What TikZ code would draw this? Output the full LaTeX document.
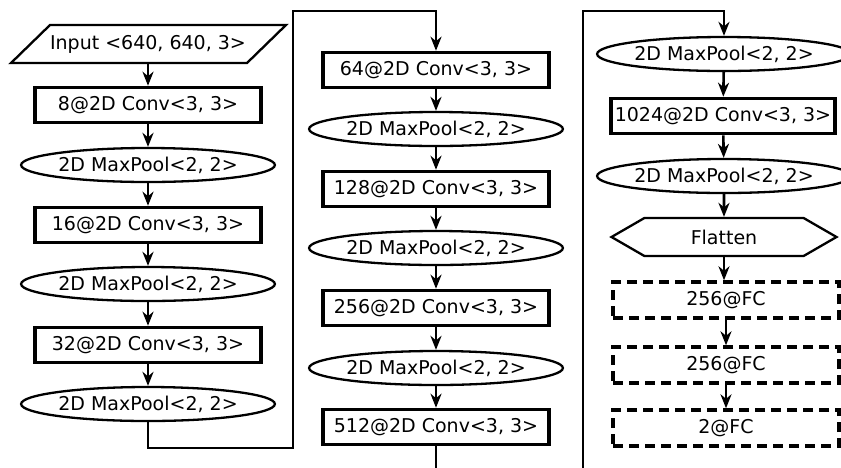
\documentclass[tikz,border=0pt]{standalone}
\usepackage{fontspec}
\setmainfont{DejaVu Sans}
\usetikzlibrary{arrows.meta,shapes.geometric,shapes.symbols}

\tikzset{
  layer/.style={draw, line width=3.6pt, minimum width=226pt, minimum height=35pt, inner sep=2pt},
  pool/.style={draw, ellipse, line width=2.3pt, minimum width=232pt, minimum height=34pt, inner sep=0pt},
  fc/.style={draw, line width=3.4pt, dash pattern=on 10pt off 6pt, minimum width=226pt, minimum height=36pt},
  flow/.style={line width=2.6pt, -{Stealth[length=14pt, width=11pt, inset=4.5pt]}},
}

\begin{document}
\begin{tikzpicture}[x=1pt, y=-1pt, font=\fontsize{19}{22}\selectfont]
  \clip (0,0) rectangle (841,467); % page frame

  % first column
  \node[minimum height=38pt] (in) at (148,44) {Input <640, 640, 3>};
  \draw[line width=2.3pt, line join=miter] (in.center) ++(-137,19) -- ++(236,0) -- ++(39,-38) -- ++(-236,0) -- cycle;
  \node[layer] (c8)  at (148,105) {8@2D Conv<3, 3>};
  \node[pool]  (p1)  at (148,165) {2D MaxPool<2, 2>};
  \node[layer] (c16) at (148,225) {16@2D Conv<3, 3>};
  \node[pool]  (p2)  at (148,284) {2D MaxPool<2, 2>};
  \node[layer] (c32) at (148,345) {32@2D Conv<3, 3>};
  \node[pool]  (p3)  at (148,404) {2D MaxPool<2, 2>};

  % second column
  \node[layer] (c64)  at (436,70)  {64@2D Conv<3, 3>};
  \node[pool]  (p4)   at (436,129) {2D MaxPool<2, 2>};
  \node[layer] (c128) at (436,189) {128@2D Conv<3, 3>};
  \node[pool]  (p5)   at (436,248) {2D MaxPool<2, 2>};
  \node[layer] (c256) at (436,308) {256@2D Conv<3, 3>};
  \node[pool]  (p6)   at (436,368) {2D MaxPool<2, 2>};
  \node[layer] (c512) at (436,427) {512@2D Conv<3, 3>};

  % third column
  \node[pool]  (p7)    at (724,54)  {2D MaxPool<2, 2>};
  \node[layer, minimum width=224pt, inner sep=0pt] (c1024) at (723,116) {1024@2D Conv<3, 3>};
  \node[pool]  (p8)    at (724,176) {2D MaxPool<2, 2>};
  \node[draw, signal, signal to=west and east, signal pointer angle=60,
        line width=2.3pt, minimum width=225pt, minimum height=38pt] (flat) at (724,237) {Flatten};
  \node[fc] (fc1) at (726,300) {256@FC};
  \node[fc] (fc2) at (726,365) {256@FC};
  \node[fc] (fc3) at (726,428) {2@FC};

  % arrows inside the columns
  \foreach \a/\b in {in/c8, c8/p1, p1/c16, c16/p2, p2/c32, c32/p3,
                     c64/p4, p4/c128, c128/p5, p5/c256, c256/p6, p6/c512,
                     p7/c1024, c1024/p8, p8/flat}
    \draw[flow] (\a) -- (\b);
  \foreach \a/\b in {flat/fc1, fc1/fc2, fc2/fc3}
    \draw[flow] (\a.south) -- (\a.south |- \b.north);

  % jumps to the next column
  \coordinate (low1)  at (293,448);
  \coordinate (high1) at (293,11);
  \coordinate (low2)  at (583,490);
  \coordinate (high2) at (583,11);
  \draw[flow] (p3.south) |- (low1) -- (high1) -| (c64.north);
  \draw[flow] (c512.south) |- (low2) -- (high2) -| (p7.north);
\end{tikzpicture}
\end{document}
